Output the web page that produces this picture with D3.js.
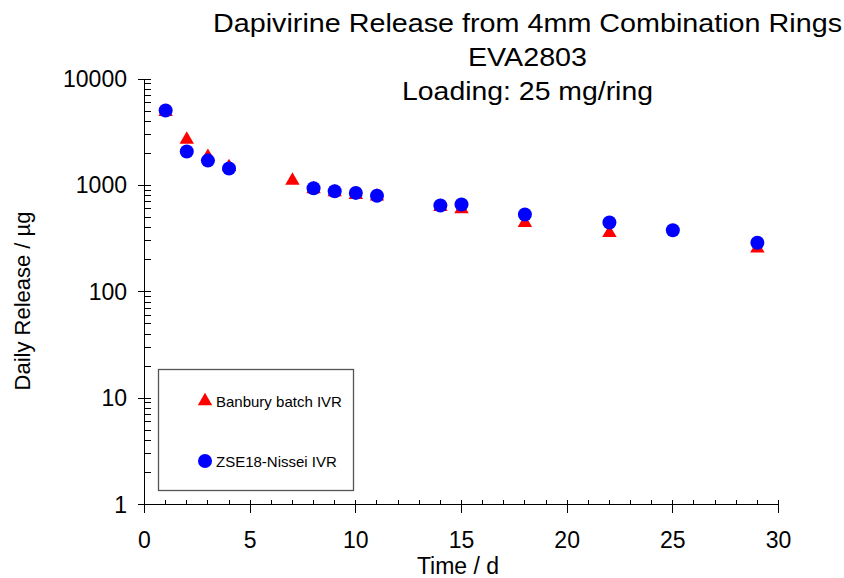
<!DOCTYPE html>
<html><head><meta charset="utf-8">
<script src="https://cdn.jsdelivr.net/npm/d3@7"></script>
<style>body{margin:0;background:#fff}svg{display:block;font-family:"Liberation Sans",Arial,sans-serif}</style>
</head><body>
<svg id="c" width="844" height="578"></svg>
<script>
const titleLines = ["Dapivirine Release from 4mm Combination Rings", "EVA2803", "Loading: 25 mg/ring"];
const titleWidths = [629, 119, 251];
const xLabel = "Time / d";
const yLabel = "Daily Release / µg";
const seriesNames = ["Banbury batch IVR", "ZSE18-Nissei IVR"];
const banburyDays = [1, 2, 3, 4, 7, 8, 9, 10, 11, 14, 15, 18, 22, 29];
const banburyValues = [4900, 2700, 1860, 1490, 1110, 925, 865, 815, 790, 630, 600, 445, 357, 256];
const nisseiDays = [1, 2, 3, 4, 8, 9, 10, 11, 14, 15, 18, 22, 25, 29];
const nisseiValues = [5050, 2080, 1710, 1440, 940, 880, 850, 800, 646, 660, 532, 448, 379, 289];
const xTicks = [0, 5, 10, 15, 20, 25, 30];
const yTicks = [1, 10, 100, 1000, 10000];

const svg = d3.select("#c");
const x = d3.scaleLinear().domain([0, 30]).range([144.5, 778.5]);
const y = d3.scaleLog().domain([1, 10000]).range([504.5, 79]);

const xMinor = d3.range(1, 30).filter(d => d % 5 !== 0);
const yMinor = [];
for (let e = 0; e < 4; e++) for (let m = 2; m <= 9; m++) yMinor.push(m * Math.pow(10, e));

const g = svg.append("g").attr("stroke", "#000").attr("stroke-width", 1).attr("shape-rendering", "crispEdges");
g.append("line").attr("x1", x(0)).attr("x2", x(0)).attr("y1", y(10000)).attr("y2", y(1) + 8);
g.append("line").attr("x1", x(0) - 7).attr("x2", x(30)).attr("y1", y(1)).attr("y2", y(1));
g.selectAll(".ym").data(yTicks.filter(d => d > 1)).join("line")
  .attr("x1", x(0) - 7).attr("x2", x(0) + 6).attr("y1", d => y(d)).attr("y2", d => y(d));
g.selectAll(".yn").data(yMinor).join("line")
  .attr("x1", x(0)).attr("x2", x(0) + 6).attr("y1", d => y(d)).attr("y2", d => y(d));
g.selectAll(".xm").data(xTicks.filter(d => d > 0)).join("line")
  .attr("x1", d => x(d)).attr("x2", d => x(d)).attr("y1", y(1) - 5).attr("y2", y(1) + 8);
g.selectAll(".xn").data(xMinor).join("line")
  .attr("x1", d => x(d)).attr("x2", d => x(d)).attr("y1", y(1) - 5).attr("y2", y(1));

svg.selectAll(".xl").data(xTicks).join("text")
  .attr("x", d => x(d)).attr("y", 548).attr("text-anchor", "middle")
  .attr("font-size", 23).text(d => d);
svg.selectAll(".yl").data(yTicks).join("text")
  .attr("x", 127).attr("y", d => y(d) + 8).attr("text-anchor", "end")
  .attr("font-size", 23).text(d => d);

svg.append("text").attr("x", 458).attr("y", 574).attr("text-anchor", "middle")
  .attr("font-size", 23).text(xLabel);
svg.append("text").attr("transform", "translate(30,301) rotate(-90)").attr("text-anchor", "middle")
  .attr("font-size", 22).text(yLabel);

svg.selectAll(".tt").data(titleLines).join("text")
  .attr("x", (d, i) => 527.5 - titleWidths[i] / 2).attr("y", (d, i) => 32 + i * 34)
  .attr("textLength", (d, i) => titleWidths[i]).attr("lengthAdjust", "spacingAndGlyphs")
  .attr("font-size", 26).text(d => d);

svg.append("rect").attr("x", 158.5).attr("y", 369.5).attr("width", 195).attr("height", 121)
  .attr("fill", "#fff").attr("stroke", "#555").attr("stroke-width", 1.3);

const tri = d3.symbol().type(d3.symbolTriangle).size(90);
svg.append("g").selectAll("path").data(banburyDays.map((d, i) => [d, banburyValues[i]])).join("path")
  .attr("d", tri).attr("fill", "#ff0000")
  .attr("transform", d => `translate(${x(d[0])},${y(d[1])})`);
svg.append("g").selectAll("circle").data(nisseiDays.map((d, i) => [d, nisseiValues[i]])).join("circle")
  .attr("cx", d => x(d[0])).attr("cy", d => y(d[1])).attr("r", 7).attr("fill", "#0000ff");

svg.append("path").attr("d", tri).attr("fill", "#ff0000").attr("transform", "translate(205,401)");
svg.append("text").attr("x", 216).attr("y", 407).attr("font-size", 15).text(seriesNames[0]);
svg.append("circle").attr("cx", 205).attr("cy", 461).attr("r", 7).attr("fill", "#0000ff");
svg.append("text").attr("x", 216).attr("y", 467).attr("font-size", 15).text(seriesNames[1]);
</script>
</body></html>
